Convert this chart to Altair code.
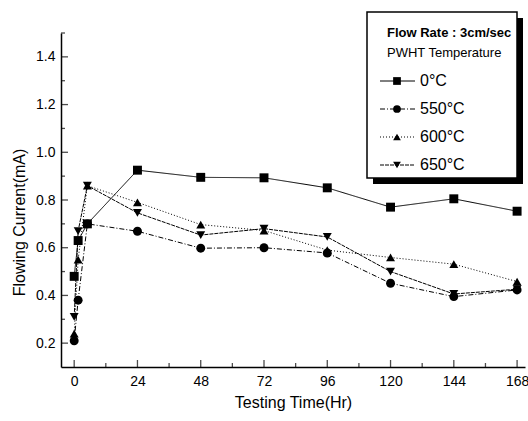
import altair as alt
import pandas as pd

# ---- data ----
series = ["0°C", "550°C", "600°C", "650°C"]
hours = [0, 1.5, 5, 24, 48, 72, 96, 120, 144, 168]
current_0 = [0.48, 0.63, 0.70, 0.925, 0.895, 0.893, 0.851, 0.77, 0.805, 0.753]
current_550 = [0.21, 0.38, 0.70, 0.669, 0.598, 0.60, 0.578, 0.451, 0.395, 0.423]
current_600 = [0.24, 0.55, 0.86, 0.79, 0.697, 0.672, 0.59, 0.559, 0.531, 0.458]
current_650 = [0.31, 0.67, 0.86, 0.746, 0.653, 0.68, 0.645, 0.50, 0.406, 0.426]
x_major = [0, 24, 48, 72, 96, 120, 144, 168]
x_minor = [12, 36, 60, 84, 108, 132, 156]
y_major = [0.2, 0.4, 0.6, 0.8, 1.0, 1.2, 1.4]
y_minor = [0.3, 0.5, 0.7, 0.9, 1.1, 1.3, 1.5]
legend_title = ["Flow Rate : 3cm/sec", "PWHT Temperature"]

shapes = ["square", "circle", "triangle-up", "triangle-down"]
dashes = [[1, 0], [5, 2, 1, 2], [1, 2], [4, 1]]

rows = []
for s, vals in zip(series, [current_0, current_550, current_600, current_650]):
    for h, v in zip(hours, vals):
        rows.append({"series": s, "hour": h, "current": v})
df = pd.DataFrame(rows)

FONT = "Liberation Sans, Arial, sans-serif"
W, H = 464, 334

xs = alt.Scale(domain=[-5, 171], nice=False, zero=False)
ys = alt.Scale(domain=[0.1, 1.5], nice=False, zero=False)

x_enc = alt.X("hour:Q", scale=xs,
              axis=alt.Axis(values=x_major, title="Testing Time(Hr)", grid=False,
                            tickSize=0, labelPadding=7, titlePadding=6,
                            domainWidth=1.5, domainColor="black",
                            labelFontSize=14, titleFontSize=16,
                            labelColor="black", titleColor="black",
                            labelFont=FONT, titleFont=FONT,
                            titleFontWeight="normal"))
y_enc = alt.Y("current:Q", scale=ys,
              axis=alt.Axis(values=y_major, format=".1f", title="Flowing Current(mA)",
                            grid=False, tickSize=0, labelPadding=6, titlePadding=8,
                            titleY=189,
                            domainWidth=1.5, domainColor="black",
                            labelFontSize=14, titleFontSize=16,
                            labelColor="black", titleColor="black",
                            labelFont=FONT, titleFont=FONT,
                            titleFontWeight="normal"))

base = alt.Chart(df)
lines = base.mark_line(color="black", strokeWidth=1).encode(
    x=x_enc, y=y_enc,
    strokeDash=alt.StrokeDash("series:N", scale=alt.Scale(domain=series, range=dashes), legend=None),
    detail="series:N",
)
points = base.mark_point(filled=True, color="black", opacity=1, size=80).encode(
    x=alt.X("hour:Q", scale=xs), y=alt.Y("current:Q", scale=ys),
    shape=alt.Shape("series:N", scale=alt.Scale(domain=series, range=shapes), legend=None),
)

# inward tick marks
def yticks(vals, size):
    return alt.Chart(pd.DataFrame({"current": vals})).mark_tick(
        orient="horizontal", size=size, thickness=1.3, color="black").encode(
        y=alt.Y("current:Q", scale=ys), x=alt.value(size / 2))

def xticks(vals, size):
    return alt.Chart(pd.DataFrame({"hour": vals})).mark_tick(
        orient="vertical", size=size, thickness=1.3, color="black").encode(
        x=alt.X("hour:Q", scale=xs), y=alt.value(H - size / 2))

tick_layers = [yticks(y_major, 7), yticks(y_minor, 4), xticks(x_major, 7), xticks(x_minor, 4)]

# legend box (decoration)
one = pd.DataFrame({"a": [0]})
bx0, bx1, by0, by1 = 306, 456, -21, 145
shadow = alt.Chart(one).mark_rect(color="black").encode(
    x=alt.value(bx0 + 6), x2=alt.value(bx1 + 6), y=alt.value(by0 + 6), y2=alt.value(by1 + 6))
box = alt.Chart(one).mark_rect(fill="white", stroke="black", strokeWidth=1.5).encode(
    x=alt.value(bx0), x2=alt.value(bx1), y=alt.value(by0), y2=alt.value(by1))

leg = [shadow, box]
leg.append(alt.Chart(one).mark_text(align="left", baseline="middle", font=FONT,
                                    fontSize=13, fontWeight="bold", color="black").encode(
    x=alt.value(326), y=alt.value(0), text=alt.value(legend_title[0])))
leg.append(alt.Chart(one).mark_text(align="left", baseline="middle", font=FONT,
                                    fontSize=13, color="black").encode(
    x=alt.value(326), y=alt.value(20), text=alt.value(legend_title[1])))
for i, s in enumerate(series):
    ly = 48 + 28 * i
    leg.append(alt.Chart(one).mark_rule(color="black", strokeWidth=1).encode(
        x=alt.value(319), x2=alt.value(354), y=alt.value(ly), strokeDash=alt.value(dashes[i])))
    leg.append(alt.Chart(one).mark_point(filled=True, color="black", opacity=1, size=60).encode(
        x=alt.value(336), y=alt.value(ly), shape=alt.value(shapes[i])))
    leg.append(alt.Chart(one).mark_text(align="left", baseline="middle", font=FONT,
                                        fontSize=16, color="black").encode(
        x=alt.value(359), y=alt.value(ly), text=alt.value(s)))

chart = alt.layer(lines, points, *tick_layers, *leg).properties(
    width=W, height=H,
    autosize=alt.AutoSizeParams(type="none"),
    padding={"left": 61, "top": 33, "right": 3, "bottom": 54},
    background="white",
).configure_view(stroke=None)

chart.save("out.html", embed_options={"renderer": "svg", "actions": False})
